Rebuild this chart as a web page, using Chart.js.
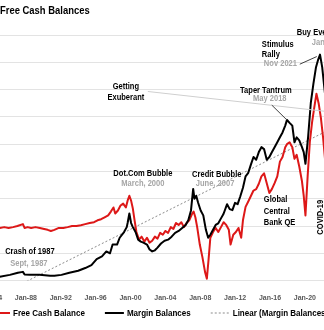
<!DOCTYPE html>
<html>
<head>
<meta charset="utf-8">
<script src="https://cdn.jsdelivr.net/npm/chart.js@4.4.1/dist/chart.umd.min.js"></script>
<style>
  html, body { margin: 0; padding: 0; background: #fff; overflow: hidden; }
  #wrap { position: relative; width: 324px; height: 330px; overflow: hidden; }
  #chart { position: absolute; left: -30px; top: 0; }
</style>
</head>
<body>
<div id="wrap"><canvas id="chart" width="380" height="330"></canvas></div>
<script>
// x axis
const tickYears = [1984, 1988, 1992, 1996, 2000, 2004, 2008, 2012, 2016, 2020];
const tickLabels = ["Jan-84", "Jan-88", "Jan-92", "Jan-96", "Jan-00", "Jan-04", "Jan-08", "Jan-12", "Jan-16", "Jan-20"];

// Margin Balances (black)
const marginYears = [1984.0, 1984.51, 1985.01, 1986.16, 1987.08, 1987.66, 1987.85, 1988.44, 1989.56, 1990.78,
  1991.27, 1992.08, 1992.99, 1994.0, 1994.81, 1995.52, 1996.12, 1996.73, 1997.23, 1997.65,
  1997.95, 1998.46, 1998.76, 1999.26, 1999.57, 1999.67, 1999.87, 2000.07, 2000.27, 2000.58,
  2000.88, 2001.18, 2001.48, 2001.89, 2002.19, 2002.49, 2002.80, 2003.10, 2003.50, 2003.91,
  2004.31, 2004.72, 2005.12, 2005.52, 2005.93, 2006.33, 2006.63, 2006.94, 2007.19, 2007.34,
  2007.54, 2007.75, 2008.05, 2008.35, 2008.65, 2008.91, 2009.16, 2009.47, 2009.77, 2010.07,
  2010.38, 2010.68, 2011.08, 2011.38, 2011.69, 2011.99, 2012.29, 2012.59, 2012.90, 2013.20,
  2013.51, 2013.81, 2014.11, 2014.42, 2014.72, 2015.02, 2015.32, 2015.63, 2015.93, 2016.23,
  2016.53, 2016.84, 2017.14, 2017.44, 2017.75, 2017.95, 2018.25, 2018.56, 2018.81, 2019.06,
  2019.36, 2019.67, 2019.87, 2020.07, 2020.37, 2020.68, 2020.98, 2021.28, 2021.53, 2021.74,
  2021.99, 2022.19, 2022.49];
const marginValues = [14, 14, 14, 21, 29, 32, 22, 21, 21, 18,
  18, 21, 29, 36, 46, 57, 79, 89, 107, 100,
  132, 132, 157, 178, 196, 211, 246, 211, 196, 178,
  150, 143, 139, 132, 114, 107, 111, 121, 136, 146,
  150, 161, 175, 182, 193, 204, 221, 257, 336, 300,
  311, 286, 257, 239, 186, 157, 168, 186, 204, 210,
  228, 245, 280, 262, 258, 285, 280, 308, 340, 382,
  395, 425, 453, 443, 471, 489, 482, 443, 453, 471,
  489, 507, 525, 543, 568, 589, 578, 568, 507, 525,
  514, 489, 471, 428, 525, 650, 721, 782, 810, 828,
  782, 721, 632];

// Free Cash Balance (red)
const cashYears = [1984.0, 1984.51, 1985.01, 1985.52, 1986.02, 1986.53, 1987.03, 1987.66, 1987.85, 1988.2,
  1988.6, 1989.1, 1989.6, 1990.1, 1990.5, 1990.87, 1991.27, 1991.78, 1992.29, 1992.79,
  1993.30, 1993.80, 1994.31, 1994.81, 1995.32, 1995.82, 1996.22, 1996.63, 1997.03, 1997.44,
  1997.75, 1998.05, 1998.25, 1998.56, 1998.86, 1999.16, 1999.47, 1999.67, 1999.87, 2000.07,
  2000.27, 2000.47, 2000.68, 2000.98, 2001.28, 2001.59, 2001.89, 2002.19, 2002.49, 2002.80,
  2003.10, 2003.40, 2003.71, 2004.01, 2004.31, 2004.62, 2004.92, 2005.22, 2005.52, 2005.83,
  2006.13, 2006.43, 2006.74, 2007.04, 2007.24, 2007.44, 2007.65, 2007.95, 2008.25, 2008.55,
  2008.76, 2008.96, 2009.16, 2009.47, 2009.77, 2010.07, 2010.38, 2010.68, 2010.98, 2011.28,
  2011.48, 2011.79, 2012.09, 2012.39, 2012.70, 2012.90, 2013.20, 2013.51, 2013.81, 2014.11,
  2014.42, 2014.72, 2015.02, 2015.32, 2015.63, 2015.93, 2016.23, 2016.53, 2016.84, 2017.14,
  2017.44, 2017.75, 2017.95, 2018.25, 2018.56, 2018.81, 2019.06, 2019.36, 2019.67, 2019.87,
  2020.07, 2020.32, 2020.57, 2020.82, 2021.07, 2021.33, 2021.58, 2021.84, 2022.09, 2022.39];
const cashValues = [193, 196, 193, 196, 193, 196, 200, 207, 193, 196,
  193, 196, 193, 189, 186, 182, 186, 193, 193, 196,
  200, 200, 203, 207, 211, 214, 221, 225, 232, 239,
  253, 268, 246, 257, 275, 282, 268, 293, 311, 293,
  264, 221, 178, 150, 161, 143, 157, 139, 146, 161,
  154, 175, 168, 182, 175, 196, 189, 211, 204, 214,
  196, 211, 221, 243, 253, 232, 196, 132, 86, 32,
  7, 79, 157, 178, 193, 178, 196, 214, 204, 186,
  132, 168, 178, 193, 157, 221, 270, 290, 310, 330,
  335, 355, 382, 393, 357, 321, 336, 357, 382, 436,
  453, 489, 500, 507, 489, 446, 461, 418, 364, 311,
  239, 382, 507, 578, 632, 685, 650, 596, 525, 418];

// Linear (Margin Balances)
const trendYears = [1984, 2023];
const trendValues = [-68, 556];

const FONT = '"Liberation Sans", Arial, sans-serif';
const SQUEEZE = 0.82; // narrow the Arial-like face towards the original's Calibri look
const GREY = '#a6a6a6';

const notes = [
  { text: 'Crash of 1987', x: 1988.46, y: 107, align: 'center' },
  { text: 'Sept, 1987', x: 1988.35, y: 64, align: 'center', color: GREY },
  { text: 'Dot.Com Bubble', x: 2001.42, y: 393, align: 'center' },
  { text: 'March, 2000', x: 2001.42, y: 357, align: 'center', color: GREY },
  { text: 'Credit Bubble', x: 2009.9, y: 389, align: 'center' },
  { text: 'June, 2007', x: 2009.7, y: 357, align: 'center', color: GREY },
  { text: 'Getting', x: 1999.47, y: 711, align: 'center' },
  { text: 'Exuberant', x: 1999.47, y: 671, align: 'center' },
  { text: 'Taper Tantrum', x: 2015.53, y: 696, align: 'center' },
  { text: 'May 2018', x: 2015.98, y: 668, align: 'center', color: GREY },
  { text: 'Stimulus', x: 2015.07, y: 864, align: 'left' },
  { text: 'Rally', x: 2015.07, y: 828, align: 'left' },
  { text: 'Nov 2021', x: 2015.3, y: 796, align: 'left', color: GREY },
  { text: 'Buy Everything', x: 2019.08, y: 911, align: 'left' },
  { text: 'Jan 2022', x: 2020.8, y: 871, align: 'left', color: GREY },
  { text: 'Global', x: 2015.3, y: 296, align: 'left' },
  { text: 'Central', x: 2015.3, y: 254, align: 'left' },
  { text: 'Bank QE', x: 2015.3, y: 214, align: 'left' },
  { text: 'COVID-19', x: 2021.83, y: 232, align: 'center', rotate: true }
];

const leaders = [
  { from: [2001.99, 693], to: [2023, 618], color: '#cfcfcf' },
  { from: [2016.21, 643], to: [2017.93, 589], color: '#404040' },
  { from: [2019.42, 793], to: [2021.37, 821], color: '#404040' }
];

function narrowText(ctx, text, x, y, align, rotate) {
  ctx.save();
  ctx.translate(x, y);
  if (rotate) ctx.rotate(-Math.PI / 2);
  ctx.scale(SQUEEZE, 1);
  ctx.textAlign = align;
  ctx.fillText(text, 0, 0);
  ctx.restore();
}

const annotate = {
  id: 'annotate',
  afterDatasetsDraw(chart) {
    const { ctx, scales: { x, y } } = chart;
    ctx.save();
    ctx.lineWidth = 1;
    leaders.forEach(l => {
      ctx.strokeStyle = l.color;
      ctx.beginPath();
      ctx.moveTo(x.getPixelForValue(l.from[0]), y.getPixelForValue(l.from[1]));
      ctx.lineTo(x.getPixelForValue(l.to[0]), y.getPixelForValue(l.to[1]));
      ctx.stroke();
    });
    ctx.font = 'bold 9.2px ' + FONT;
    ctx.textBaseline = 'middle';
    notes.forEach(n => {
      ctx.fillStyle = n.color || '#000';
      narrowText(ctx, n.text, x.getPixelForValue(n.x), y.getPixelForValue(n.y), n.align, n.rotate);
    });
    ctx.restore();
  },
  afterDraw(chart) {
    const { ctx, chartArea } = chart;
    ctx.save();
    ctx.textBaseline = 'middle';
    // title (its left part lies outside the picture)
    ctx.font = 'bold 11.5px ' + FONT;
    ctx.fillStyle = '#000';
    narrowText(ctx, 'Free Cash Balances', 30, 10.5, 'left');
    // legend
    ctx.font = 'bold 9.8px ' + FONT;
    let lx = chartArea.left;
    const ly = 313;
    [1, 0, 2].forEach(i => {
      const ds = chart.data.datasets[i];
      ctx.strokeStyle = ds.borderColor;
      ctx.lineWidth = ds.borderWidth;
      ctx.setLineDash(ds.borderDash || []);
      ctx.beginPath();
      ctx.moveTo(lx, ly);
      ctx.lineTo(lx + 19, ly);
      ctx.stroke();
      ctx.setLineDash([]);
      ctx.fillStyle = '#000';
      narrowText(ctx, ds.label, lx + 22, ly, 'left');
      lx += 22 + ctx.measureText(ds.label).width * SQUEEZE + 20;
    });
    ctx.restore();
  }
};

const pts = (xs, ys) => xs.map((v, i) => ({ x: v, y: ys[i] }));

new Chart(document.getElementById('chart'), {
  type: 'line',
  data: {
    datasets: [{
      label: 'Margin Balances',
      data: pts(marginYears, marginValues),
      borderColor: '#000000',
      borderWidth: 2,
      order: 0
    }, {
      label: 'Free Cash Balance',
      data: pts(cashYears, cashValues),
      borderColor: '#dd1818',
      borderWidth: 2,
      order: 1
    }, {
      label: 'Linear (Margin Balances)',
      data: pts(trendYears, trendValues),
      borderColor: '#8c8c8c',
      borderWidth: 1,
      borderDash: [2, 2],
      order: 2
    }]
  },
  options: {
    responsive: false,
    animation: false,
    layout: { padding: { left: 21, right: 19, top: 35, bottom: 23 } },
    elements: { point: { radius: 0 }, line: { tension: 0, borderJoinStyle: 'round' } },
    plugins: { legend: { display: false }, title: { display: false }, tooltip: { enabled: false } },
    scales: {
      x: {
        type: 'linear',
        min: 1984,
        max: 2023,
        grid: { display: false },
        border: { display: false },
        afterBuildTicks: s => { s.ticks = tickYears.map(v => ({ value: v })); },
        ticks: {
          padding: 5,
          maxRotation: 0,
          autoSkip: false,
          color: '#595959',
          font: { family: FONT, size: 7, weight: 'bold' },
          callback: v => tickLabels[tickYears.indexOf(v)]
        }
      },
      y: {
        min: 0,
        max: 900,
        ticks: { display: false, stepSize: 100 },
        grid: { color: '#e3e3e3', drawTicks: false },
        border: { display: false }
      }
    }
  },
  plugins: [annotate]
});
</script>
</body>
</html>
